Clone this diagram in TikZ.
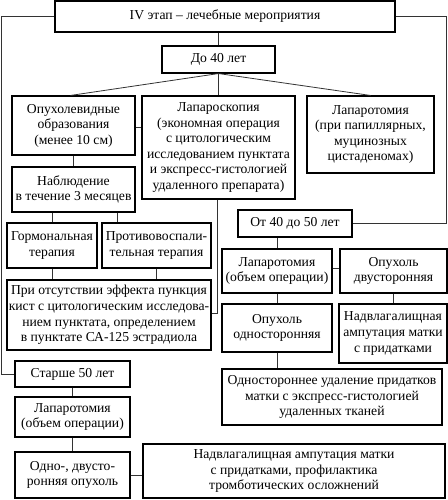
\documentclass[tikz,border=0pt]{standalone}
\usepackage{fontspec}
\setmainfont{Liberation Serif}
\usetikzlibrary{calc}
\tikzset{
  box/.style={draw=black, line width=1.1bp, align=center, inner sep=1bp,
    font=\fontsize{13.7}{15.6}\selectfont},
  conn/.style={draw=black!80, line width=0.8bp}
}
\newcommand{\bx}[6]{% name, x1,y1,x2,y2, text
  \node[box, minimum width={(#4-#2)*1bp}, minimum height={(#5-#3)*1bp}] (#1) at ({(#2+#4)/2},{(#3+#5)/2}) {#6};}
\begin{document}
\begin{tikzpicture}[x=1bp,y=-1bp]
\useasboundingbox (0,0) rectangle (448,500);
\bx{A}{55}{1}{395}{32}{IV этап – лечебные мероприятия}
\bx{B}{162}{46}{275}{73}{До 40 лет}
\bx{C}{12}{96}{135}{155}{Опухолевидные\\образования\\(менее 10 см)}
\bx{D}{142}{96}{295}{199}{Лапароскопия\\(экономная операция\\с цитологическим\\исследованием пунктата\\и экспресс-гистологией\\удаленного препарата)}
\bx{E}{307}{96}{434}{173}{Лапаротомия\\(при папиллярных,\\муцинозных\\цистаденомах)}
\bx{F}{12}{167}{135}{212}{Наблюдение\\в течение 3 месяцев}
\bx{G}{7}{223}{97}{268}{Гормональная\\терапия}
\bx{H}{102}{223}{211}{268}{Противовоспали-\\тельная терапия}
\bx{I}{7}{280}{211}{350}{При отсутствии эффекта пункция\\кист с цитологическим исследова-\\нием пунктата, определением\\в пунктате СА-125 эстрадиола}
\bx{J}{238}{210}{352}{237}{От 40 до 50 лет}
\bx{K}{222}{249}{332}{293}{Лапаротомия\\(объем операции)}
\bx{L}{340}{249}{447}{293}{Опухоль\\двусторонняя}
\bx{M}{222}{304}{332}{352}{Опухоль\\односторонняя}
\bx{N}{339}{304}{447}{363}{Надвлагалищная\\ампутация матки\\с придатками}
\bx{O}{222}{369}{442}{425}{Одностороннее удаление придатков\\матки с экспресс-гистологией\\удаленных тканей}
\bx{P}{15}{361}{130}{387}{Старше 50 лет}
\bx{Q}{15}{397}{130}{437}{Лапаротомия\\(объем операции)}
\bx{R}{15}{452}{130}{498}{Одно-, двусто-\\ронняя опухоль}
\bx{S}{143}{444}{445}{498}{Надвлагалищная ампутация матки\\с придатками, профилактика\\тромботических осложнений}
% connectors
\coordinate (lft) at (1,0);
\coordinate (rgt) at (446,0);
\draw[conn] (A.west) -- (A.west -| lft) |- (P.west);
\draw[conn] (A.east) -- (A.east -| rgt) |- (J.east);
\draw[conn] (B.north) -- (B.north |- A.south);
\coordinate (cn) at ($(C.north)+(-3,0)$);
\draw[conn] (B.south) -- (cn);
\draw[conn] (B.south) -- (D.north);
\draw[conn] (B.south) -- (E.north);
\draw[conn] ($(C.east)+(0,1.5)$) -- ($(C.east -| D.west)+(0,1.5)$);
\draw[conn] (C.south) -- (F.north);
\draw[conn] (G.north) -- (G.north |- F.south);
\coordinate (h1) at ($(H.north west)+(16,0)$);
\draw[conn] (h1) -- (h1 |- F.south);
\draw[conn] (G.south) -- (G.south |- I.north);
\draw[conn] (H.south) -- (H.south |- I.north);
\coordinate (d1) at ($(D.south)+(-1,0)$);
\coordinate (i1) at ($(I.east)+(0,-2)$);
\draw[conn] (d1) |- (i1);
\draw[conn] (K.north) -- (K.north |- J.south);
\draw[conn] ($(K.east)+(0,-3)$) -- ($(K.east -| L.west)+(0,-3)$);
\draw[conn] (K.south) -- (M.north);
\draw[conn] (L.south) -- (L.south |- N.north);
\draw[conn] (M.south) -- (M.south |- O.north);
\draw[conn] (P.south) -- (Q.north);
\draw[conn] (Q.south) -- (R.north);
\draw[conn] (R.east) -- (R.east -| S.west);
\end{tikzpicture}
\end{document}
